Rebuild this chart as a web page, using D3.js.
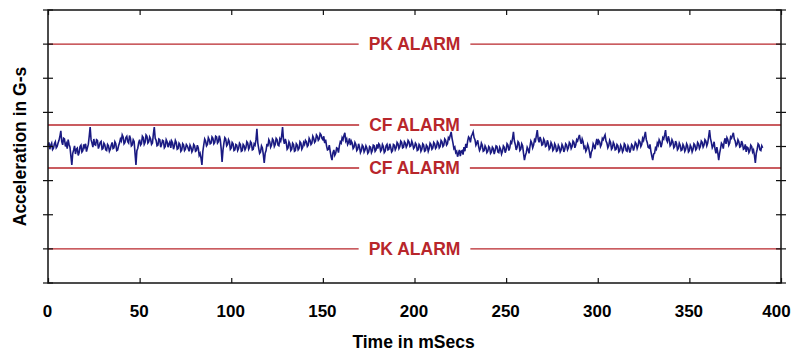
<!DOCTYPE html>
<html>
<head>
<meta charset="utf-8">
<script src="https://cdn.jsdelivr.net/npm/d3@7/dist/d3.min.js"></script>
<style>
  html, body { margin: 0; padding: 0; background: #ffffff; }
  svg { display: block; }
  text { font-family: "Liberation Sans", Arial, sans-serif; font-weight: bold; }
</style>
</head>
<body>
<svg id="chart" width="794" height="353"></svg>
<script>
// Time axis (ms) and its tick labels
const xTicks = [0, 50, 100, 150, 200, 250, 300, 350, 400];
const yTicks = [-4, -3, -2, -1, 0, 1, 2, 3, 4];

// Alarm thresholds in G-s
const alarmNames = ["PK ALARM", "CF ALARM", "CF ALARM", "PK ALARM"];
const alarmLevels = [3, 0.63, -0.63, -3];

// Sample times start at 0 ms, one sample every 0.5 ms
const sampleStart = 0;
const sampleStep = 0.5;
// Acceleration samples in hundredths of a G
const accelCentiG = [
  2, 12, -8, 4, 10, -9, -5, 8, 14, -4, 0, 10, 18, 30, 46, 14, 5, 24, 22, 0,
  8, -6, 20, 6, -2, -28, -54, -20, -10, 2, -22, -8, -5, -26, -18, 0, 4, -16, -12, 6,
  -2, 8, -15, -4, 6, 30, 57, 20, 10, -2, 22, 6, 4, 20, 18, -6, 2, 12, 15, -8,
  -6, 10, 5, -10, -12, 6, 2, -14, -8, 4, 12, -6, -4, 14, 8, -12, -10, 2, 10, 22,
  16, 34, 28, 8, 12, 26, 30, 14, 10, 32, 24, 2, 5, 20, 15, -20, -54, -12, -5, 12,
  20, 4, 8, 30, 26, 6, 12, 34, 30, 10, 14, 28, 22, 6, 10, 36, 57, 24, 18, 2,
  4, 22, 20, -2, 6, 18, 16, -4, 0, 20, 14, -2, 8, 14, -4, 16, 10, -8, 2, 18,
  12, -8, -6, 10, 6, -14, -10, 8, 4, -12, -8, 6, 2, -6, -14, 4, -2, -16, -10, 6,
  2, -14, -12, 4, -4, -26, -20, -34, -54, -14, 5, 22, 16, 2, 6, 26, 20, 8, 10, 28,
  24, 8, 12, 30, 28, 10, 14, 32, 20, -6, -45, -10, 10, 26, 22, 2, 6, 20, 14, -8,
  -4, 12, 8, -12, -10, 6, 4, -12, -6, 10, 6, -14, -12, 6, 2, -10, -4, 14, 10, -8,
  -2, 14, 10, -10, -8, 8, 4, 20, 52, 10, -6, -20, -16, 2, -4, -24, -48, -20, -12, 8,
  0, 20, 14, -2, 4, 22, 18, 0, 6, 24, 20, 4, 2, 22, 16, 30, 57, 20, 8, 22,
  12, -8, -4, 14, 8, -12, -8, 10, 6, -14, -12, 8, 4, -10, -6, 14, 10, -8, -2, 12,
  6, 18, 14, 0, 4, 24, 18, 6, 10, 30, 24, 12, 16, 34, 30, 18, 22, 38, 34, 24,
  20, 30, 10, 20, 2, -10, -8, 4, -14, -30, -40, -18, -10, -26, -20, -4, -6, -18, 2, 14,
  10, 26, 20, 32, 40, 16, 22, 6, 12, 24, 4, 16, 10, -6, -2, 12, 6, -12, -8, 8,
  -2, -18, -12, 4, 0, -16, -10, 2, -4, -20, -16, 0, -2, -18, -12, 4, 2, -14, -10, 6,
  -6, 8, 4, -14, -10, 6, 0, -18, -14, 2, 6, -10, -8, 8, -2, -16, -12, 6, 4, -10,
  -4, 12, 8, -6, 0, 16, 12, -4, -2, 14, 10, -2, 4, 18, 14, 0, 2, 16, 8, -6,
  -2, 10, 6, -12, -10, 6, 2, -14, -8, 8, 4, -14, -12, 4, 0, -14, -6, 10, 6, -8,
  -4, 12, 8, -6, -2, 14, 10, -4, 0, 18, 14, 0, 4, 22, 18, 4, 8, 26, 22, 32,
  43, 24, 10, -6, -2, -18, -14, -30, -20, -10, -28, -14, -12, -24, -2, -14, 8, -4, 16, 28,
  24, 12, 30, 36, 43, 26, 20, 4, 10, 18, 0, -12, -6, 10, 4, -14, -12, 2, -4, -18,
  -14, 0, -4, -20, -16, -2, -6, -22, -12, 2, 0, -16, -18, -2, -8, -22, -14, 2, -2, -18,
  -10, 8, 4, -12, -4, 14, 10, 24, 43, 16, 6, -10, -2, 14, 10, -12, -8, 8, 2, -20,
  -40, -26, -18, -2, -8, -20, 0, 16, 10, -4, 4, 20, 16, 32, 48, 22, 12, 28, 20, 4,
  6, 22, 16, 0, 2, 18, 10, -8, -4, 12, 6, -12, -8, 8, 2, -14, -12, 4, -2, -16,
  -10, 6, 0, -16, -8, 8, 4, -10, -4, 12, 8, -6, 0, 16, 12, -4, 4, 20, 16, 26,
  34, 18, 8, 22, 14, -4, 0, -14, -8, 6, -2, -18, -34, -16, -10, 8, 2, -8, 10, 22,
  4, 18, 14, 0, 6, 24, 20, 28, 34, 16, 10, -4, 2, 18, 12, -8, -4, 12, 6, -10,
  -8, 6, 2, -16, -12, 4, -2, -16, -10, 8, 4, -12, -14, 2, -4, -18, -8, 6, 2, -12,
  -2, 12, 8, -6, 2, 18, 14, 0, 6, 24, 18, 30, 43, 20, 12, -2, -4, 6, -14, -28,
  -40, -22, -20, -4, -8, 10, 4, 20, 14, -2, 8, 26, 22, 34, 48, 20, 14, 30, 20, 2,
  6, 20, 14, -4, 0, 16, 8, -10, -6, 10, 4, -12, -10, 6, 0, -14, -8, 8, 2, -16,
  -12, 4, -2, -16, -8, 8, 4, -10, -6, 12, 8, -6, 0, 16, 12, -2, 4, 20, 16, 2,
  10, 28, 48, 24, 12, -4, 2, 14, -8, -20, -2, -18, -40, -20, -6, 10, 6, -6, 14, 24,
  8, 26, 20, 4, 10, 28, 24, 32, 40, 22, 16, 2, 6, 20, 14, -2, 0, 16, 8, -8,
  -6, 6, -16, -2, -4, -18, -12, 4, 0, -16, -10, -26, -48, -20, -8, 8, 4, -10, -12, 2,
  -4
];

const svg = d3.select("#chart");
const margin = { top: 10, right: 13, bottom: 70, left: 48 };
const W = 794, H = 353;
const innerW = W - margin.left - margin.right;
const innerH = H - margin.top - margin.bottom;

const x = d3.scaleLinear().domain([0, 400]).range([0, innerW]);
const y = d3.scaleLinear().domain([-4, 4]).range([innerH, 0]);

const g = svg.append("g").attr("transform", `translate(${margin.left},${margin.top})`);

const red = "#b8262b";
const labelFont = 17.5;

// Alarm threshold lines, broken in the middle for the label
const cx = innerW / 2;
alarmLevels.forEach((lvl, i) => {
  const name = alarmNames[i];
  const t = g.append("text")
    .attr("x", cx)
    .attr("y", y(lvl))
    .attr("text-anchor", "middle")
    .attr("dominant-baseline", "central")
    .attr("fill", red)
    .style("font-size", labelFont + "px")
    .text(name);
  const w = t.node().getComputedTextLength();
  const gap = w / 2 + 10;
  g.append("line")
    .attr("x1", 0).attr("x2", cx - gap)
    .attr("y1", y(lvl)).attr("y2", y(lvl))
    .attr("stroke", red).attr("stroke-width", 1.3);
  g.append("line")
    .attr("x1", cx + gap).attr("x2", innerW)
    .attr("y1", y(lvl)).attr("y2", y(lvl))
    .attr("stroke", red).attr("stroke-width", 1.3);
});

// Acceleration trace
const line = d3.line()
  .x((d, i) => x(sampleStart + i * sampleStep))
  .y(d => y(d / 100));
g.append("path")
  .datum(accelCentiG)
  .attr("d", line)
  .attr("fill", "none")
  .attr("stroke", "#1a1a82")
  .attr("stroke-width", 1.6)
  .attr("stroke-linejoin", "miter");

// Frame
g.append("rect")
  .attr("x", 0).attr("y", 0)
  .attr("width", innerW).attr("height", innerH)
  .attr("fill", "none")
  .attr("stroke", "#111")
  .attr("stroke-width", 1.5);

// Bottom axis: inward ticks with labels
const xAxis = d3.axisBottom(x).tickValues(xTicks).tickSize(-5).tickPadding(22).tickFormat(d3.format("d"));
const gx = g.append("g").attr("transform", `translate(0,${innerH})`).call(xAxis);
gx.select(".domain").remove();
gx.selectAll(".tick line").attr("stroke", "#111").attr("stroke-width", 1.2);
gx.selectAll(".tick text")
  .attr("fill", "#000")
  .attr("dx", (d, i, n) => (i === n.length - 1 ? -5 : -1))
  .style("font-size", "17px")
  .style("font-family", "'Liberation Sans', Arial, sans-serif")
  .style("font-weight", "bold");

// Top axis: inward ticks only
const xTop = d3.axisTop(x).tickValues(xTicks).tickSize(-5).tickFormat("");
const gt = g.append("g").call(xTop);
gt.select(".domain").remove();
gt.selectAll(".tick line").attr("stroke", "#111").attr("stroke-width", 1.2);

// Left and right axes: ticks crossing the frame
[0, innerW].forEach(xp => {
  g.append("g").selectAll("line")
    .data(yTicks)
    .join("line")
    .attr("x1", xp - 5).attr("x2", xp + 5)
    .attr("y1", d => y(d)).attr("y2", d => y(d))
    .attr("stroke", "#111").attr("stroke-width", 1.2);
});

// Axis titles
svg.append("text")
  .attr("x", margin.left + cx - 1)
  .attr("y", 342)
  .attr("text-anchor", "middle")
  .attr("dominant-baseline", "central")
  .style("font-size", "17.5px")
  .text("Time in mSecs");

svg.append("text")
  .attr("transform", `translate(20,${margin.top + innerH / 2}) rotate(-90)`)
  .attr("text-anchor", "middle")
  .attr("dominant-baseline", "central")
  .style("font-size", "17.5px")
  .text("Acceleration in G-s");
</script>
</body>
</html>
